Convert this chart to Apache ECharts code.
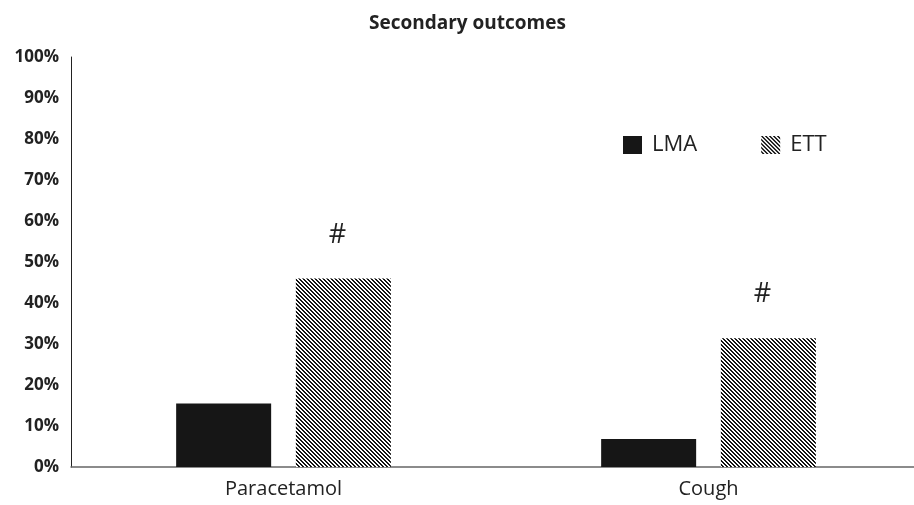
<!DOCTYPE html>
<html>
<head>
<meta charset="utf-8">
<script src="https://cdn.jsdelivr.net/npm/echarts@6/dist/echarts.min.js"></script>
<style>
  html, body {margin: 0; padding: 0; background: #fff;}
  #chart {width: 914px; height: 505px;}
</style>
</head>
<body>
<div id="chart"></div>
<script>
var categories = ['Paracetamol', 'Cough'];
var lmaValues = [15.5, 6.8];
var ettValues = [46, 31.4];
var ettMarks = ['#', '#'];
var yTicks = [0, 10, 20, 30, 40, 50, 60, 70, 80, 90, 100];

// diagonal hatch for ETT bars
function hatch() {
  var c = document.createElement('canvas');
  c.width = 4; c.height = 4;
  var ctx = c.getContext('2d');
  var img = ctx.createImageData(4, 4);
  for (var y = 0; y < 4; y++) {
    for (var x = 0; x < 4; x++) {
      var i = (y * 4 + x) * 4;
      var on = ((x - y + 8) % 4) < 2;
      var v = on ? 20 : 255;
      img.data[i] = v; img.data[i + 1] = v; img.data[i + 2] = v; img.data[i + 3] = 255;
    }
  }
  ctx.putImageData(img, 0, 0);
  return c;
}

var chart = echarts.init(document.getElementById('chart'));
var font = 'Open Sans';

chart.setOption({
  animation: false,
  title: {
    text: 'Secondary outcomes', left: 364, top: 9,
    textStyle: {fontFamily: font, fontSize: 19, fontWeight: 'bold', color: '#222'}
  },
  legend: {
    left: 618, top: 129, itemWidth: 19, itemHeight: 18, itemGap: 64,
    icon: 'rect',
    textStyle: {fontFamily: font, fontSize: 22, color: '#222', padding: [0, 0, 0, 5]},
    data: ['LMA', 'ETT']
  },
  grid: {left: 71, top: 57, width: 850, height: 410, outerBoundsMode: 'none'},
  xAxis: {
    type: 'category', data: categories,
    axisLine: {lineStyle: {color: '#666', width: 1.5}},
    axisTick: {show: false},
    axisLabel: {fontFamily: font, fontSize: 20, color: '#222', margin: 12}
  },
  yAxis: {
    type: 'value', min: yTicks[0], max: yTicks[yTicks.length - 1], interval: 10,
    axisLine: {show: true, lineStyle: {color: '#222', width: 1}},
    axisTick: {show: false},
    splitLine: {show: false},
    axisLabel: {fontFamily: font, fontSize: 17, fontWeight: 'bold', color: '#222', margin: 12,
      formatter: '{value}%'}
  },
  series: [
    {
      name: 'LMA', type: 'bar', data: lmaValues, barWidth: 95, barGap: '26%',
      itemStyle: {color: '#161616'}
    },
    {
      name: 'ETT', type: 'bar', data: ettValues, barWidth: 95,
      itemStyle: {color: {image: hatch(), repeat: 'repeat'}},
      label: {
        show: true, position: 'top', distance: 30, offset: [-6, 0],
        formatter: function (p) { return ettMarks[p.dataIndex]; },
        fontFamily: font, fontSize: 27, color: '#222'
      }
    }
  ]
});
</script>
</body>
</html>
